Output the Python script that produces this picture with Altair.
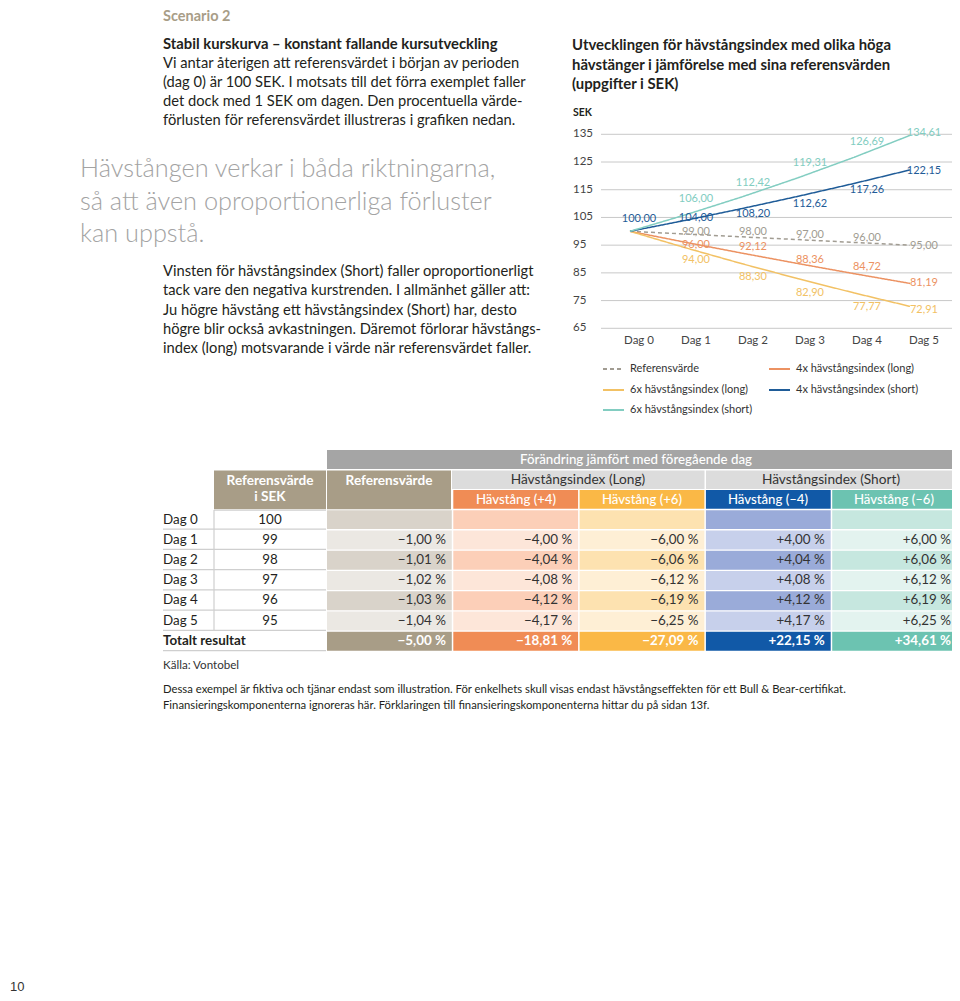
import altair as alt
import pandas as pd

# ---------------- data ----------------
days = [0, 1, 2, 3, 4, 5]
day_labels = ["Dag 0", "Dag 1", "Dag 2", "Dag 3", "Dag 4", "Dag 5"]
series_names = ["Referensvärde", "4x hävstångsindex (long)", "6x hävstångsindex (long)",
                "4x hävstångsindex (short)", "6x hävstångsindex (short)"]
ref_values = [100.00, 99.00, 98.00, 97.00, 96.00, 95.00]
long4_values = [100.00, 96.00, 92.12, 88.36, 84.72, 81.19]
long6_values = [100.00, 94.00, 88.30, 82.90, 77.77, 72.91]
short4_values = [100.00, 104.00, 108.20, 112.62, 117.26, 122.15]
short6_values = [100.00, 106.00, 112.42, 119.31, 126.69, 134.61]
y_ticks = [135, 125, 115, 105, 95, 85, 75, 65]

table_rows = ["Dag 0", "Dag 1", "Dag 2", "Dag 3", "Dag 4", "Dag 5"]
ref_sek = [100, 99, 98, 97, 96, 95]
chg_ref = [None, -1.00, -1.01, -1.02, -1.03, -1.04]
chg_long4 = [None, -4.00, -4.04, -4.08, -4.12, -4.17]
chg_long6 = [None, -6.00, -6.06, -6.12, -6.19, -6.25]
chg_short4 = [None, 4.00, 4.04, 4.08, 4.12, 4.17]
chg_short6 = [None, 6.00, 6.06, 6.12, 6.19, 6.25]
totals = [-5.00, -18.81, -27.09, 22.15, 34.61]
col_keys = ["ref", "l4", "l6", "s4", "s6"]
sub_heads = ["Hävstång (+4)", "Hävstång (+6)", "Hävstång (–4)", "Hävstång (–6)"]

scenario_title = "Scenario 2"
para1_lines = [
    "Stabil kurskurva – konstant fallande kursutveckling",
    "Vi antar återigen att referensvärdet i början av perioden",
    "(dag 0) är 100 SEK. I motsats till det förra exemplet faller",
    "det dock med 1 SEK om dagen. Den procentuella värde-",
    "förlusten för referensvärdet illustreras i grafiken nedan.",
]
quote_lines = [
    "Hävstången verkar i båda riktningarna,",
    "så att även oproportionerliga förluster",
    "kan uppstå.",
]
para2_lines = [
    "Vinsten för hävstångsindex (Short) faller oproportionerligt",
    "tack vare den negativa kurstrenden. I allmänhet gäller att:",
    "Ju högre hävstång ett hävstångsindex (Short) har, desto",
    "högre blir också avkastningen. Däremot förlorar hävstångs-",
    "index (long) motsvarande i värde när referensvärdet faller.",
]
chart_title_lines = [
    "Utvecklingen för hävstångsindex med olika höga",
    "hävstänger i jämförelse med sina referensvärden",
    "(uppgifter i SEK)",
]
footnote_source = "Källa: Vontobel"
footnote_lines = [
    "Dessa exempel är fiktiva och tjänar endast som illustration. För enkelhets skull visas endast hävstångseffekten för ett Bull & Bear-certifikat.",
    "Finansieringskomponenterna ignoreras här. Förklaringen till finansieringskomponenterna hittar du på sidan 13f.",
]
page_number = "10"

# ---------------- styles ----------------
FONT = "Lato"
DARK = "#231f20"
OFF = 8
series_colors = ["#a19c92", "#ec9262", "#f2c164", "#1f5c98", "#82cdc1"]
series_dash = [[4, 3], [1, 0], [1, 0], [1, 0], [1, 0]]
# vertical offset (px) of each value label from its point, per series and day
label_offsets = [
    [None, -2, -5, -5, -4, 1],
    [None, 3, -6, -4, -7, 0],
    [None, 12, 13, 14, 14, 4],
    [-12, -2, 5, 8, 7, 1],
    [None, -16, -14, -15, -15, -2],
]
pal = {
    "ref": ("#a89d87", "#d9d3ca", "#ebe8e3"),
    "l4": ("#f08c55", "#fccfb8", "#fde6d9"),
    "l6": ("#fab846", "#fde2b0", "#feefd5"),
    "s4": ("#1159a7", "#9aabd9", "#c7d0eb"),
    "s6": ("#6cc3b1", "#c6e7df", "#e3f3ef"),
}
BODY = 14.7
TBL = 13.4


def px(v):
    return v - OFF


def fmt(v, sign=False):
    s = f"{abs(v):.2f}".replace(".", ",")
    if v < 0:
        return "−" + s
    return ("+" + s) if sign else s


layers = []


def text_layer(s, x, y, size=BODY, weight="normal", color=DARK, align="left", baseline="middle"):
    df = pd.DataFrame({"t": [s]})
    return alt.Chart(df).mark_text(
        align=align, baseline=baseline, fontSize=size, fontWeight=weight,
        color=color, font=FONT
    ).encode(x=alt.value(px(x)), y=alt.value(px(y)), text="t:N")


def box(x1, x2, y1, y2, color):
    df = pd.DataFrame({"k": [0]})
    return alt.Chart(df).mark_rect(color=color).encode(
        x=alt.value(px(x1)), x2=alt.value(px(x2)),
        y=alt.value(px(y1)), y2=alt.value(px(y2)))


# ---------------- left text column ----------------
layers.append(text_layer(scenario_title, 163, 10, size=14.5, weight="bold", color="#a89d87", baseline="top"))
for i, line in enumerate(para1_lines):
    layers.append(text_layer(line, 163, 45 + 19 * i, size=14.8 if i == 0 else BODY,
                             weight="bold" if i == 0 else "normal"))
for i, line in enumerate(quote_lines):
    layers.append(text_layer(line, 80, 169 + 32.5 * i, size=25.3, weight=300, color="#a3a3a3"))
for i, line in enumerate(para2_lines):
    layers.append(text_layer(line, 163, 272 + 19.3 * i, size=BODY))

# ---------------- line chart ----------------
for i, line in enumerate(chart_title_lines):
    layers.append(text_layer(line, 572, 46 + 19.5 * i, size=14.9, weight="bold"))
layers.append(text_layer("SEK", 573, 113, size=10.5, weight="bold"))

xs_pts = alt.Scale(domain=[0, 5], range=[px(630), px(910)], nice=False, zero=False)
xs_lab = alt.Scale(domain=[0, 5], range=[px(639), px(924)], nice=False, zero=False)
ys = alt.Scale(domain=[65, 135], range=[px(328.3), px(134.3)], nice=False, zero=False)

grid_df = pd.DataFrame({"v": y_ticks})
layers.append(alt.Chart(grid_df).mark_rule(color="#c8c8c8", strokeWidth=1).encode(
    y=alt.Y("v:Q", scale=ys, axis=None), x=alt.value(px(601)), x2=alt.value(px(958))))
layers.append(alt.Chart(grid_df).mark_text(
    align="left", baseline="middle", fontSize=11.5, font=FONT, color="#444").encode(
    y=alt.Y("v:Q", scale=ys, axis=None), x=alt.value(px(573)), text="v:Q"))

day_df = pd.DataFrame({"day": days, "lab": day_labels})
layers.append(alt.Chart(day_df).mark_text(
    align="center", baseline="middle", fontSize=11.5, font=FONT, color="#444").encode(
    x=alt.X("day:Q", scale=xs_lab, axis=None), y=alt.value(px(341)), text="lab:N"))

all_values = [ref_values, long4_values, long6_values, short4_values, short6_values]
line_rows = []
for name, vals in zip(series_names, all_values):
    for d, v in zip(days, vals):
        line_rows.append({"day": d, "value": v, "series": name})
line_df = pd.DataFrame(line_rows)
layers.append(alt.Chart(line_df).mark_line(strokeWidth=1.5).encode(
    x=alt.X("day:Q", scale=xs_pts, axis=None),
    y=alt.Y("value:Q", scale=ys, axis=None),
    color=alt.Color("series:N", scale=alt.Scale(domain=series_names, range=series_colors), legend=None),
    strokeDash=alt.StrokeDash("series:N", scale=alt.Scale(domain=series_names, range=series_dash), legend=None),
    order=alt.Order("day:Q"),
))

# value labels (one layer per offset group)
for vals, col, offs in zip(all_values, series_colors, label_offsets):
    groups = {}
    for d, v, o in zip(days, vals, offs):
        if o is None:
            continue
        groups.setdefault(o, []).append((d, v))
    for o, pts in groups.items():
        df = pd.DataFrame({"day": [p[0] for p in pts], "value": [p[1] for p in pts],
                           "t": [fmt(p[1]) for p in pts]})
        layers.append(alt.Chart(df).mark_text(
            align="center", baseline="middle", fontSize=11, font=FONT, color=col, dy=o).encode(
            x=alt.X("day:Q", scale=xs_lab, axis=None),
            y=alt.Y("value:Q", scale=ys, axis=None), text="t:N"))

# legend
leg_pos = [(603, 369), (769, 369), (603, 390), (769, 390), (603, 410)]
for name, col, dash, (lx, ly) in zip(series_names, series_colors, series_dash, leg_pos):
    df = pd.DataFrame({"k": [0]})
    layers.append(alt.Chart(df).mark_rule(color=col, strokeWidth=2, strokeDash=dash).encode(
        x=alt.value(px(lx)), x2=alt.value(px(lx + 21)), y=alt.value(px(ly))))
    layers.append(text_layer(name, lx + 27, ly, size=11, color="#333"))

# ---------------- table ----------------
rows_domain = ["H"] + table_rows + ["Totalt"]
rowscale = alt.Scale(domain=rows_domain, range=[px(490), px(650.7)], paddingInner=0.07, paddingOuter=0)
colscale = alt.Scale(domain=col_keys, range=[px(327), px(957)], paddingInner=0.012, paddingOuter=0)
col_right = alt.Scale(type="point", domain=col_keys, range=[px(446), px(951)], padding=0)

# spanning header boxes
layers.append(box(327, 957, 450, 469, "#a5a5a5"))
layers.append(text_layer("Förändring jämfört med föregående dag", 636, 460, size=13.3, weight=500,
                         color="white", align="center"))
layers.append(box(452, 704.5, 470.5, 489, "#dcdcdc"))
layers.append(box(706, 957, 470.5, 489, "#dcdcdc"))
layers.append(text_layer("Hävstångsindex (Long)", 578, 480, size=13.7, color="#333", align="center"))
layers.append(text_layer("Hävstångsindex (Short)", 831, 480, size=13.7, color="#333", align="center"))
layers.append(box(214, 326, 470.5, 509.3, pal["ref"][0]))
layers.append(text_layer("Referensvärde", 270, 481, size=13.6, weight="bold", color="white", align="center"))
layers.append(text_layer("i SEK", 270, 497, size=13.6, weight="bold", color="white", align="center"))
layers.append(box(327, 451, 470.5, 509.3, pal["ref"][0]))
layers.append(text_layer("Referensvärde", 389, 481, size=13.6, weight="bold", color="white", align="center"))

# cells
chg_all = [chg_ref, chg_long4, chg_long6, chg_short4, chg_short6]
cell_rows, val_rows, tot_rows, head_rows = [], [], [], []
for ci, (k, chg) in enumerate(zip(col_keys, chg_all)):
    if k != "ref":
        cell_rows.append({"col": k, "row": "H", "fill": pal[k][0]})
        head_rows.append({"col": k, "row": "H", "t": sub_heads[ci - 1]})
    for ri, (r, v) in enumerate(zip(table_rows, chg)):
        cell_rows.append({"col": k, "row": r, "fill": pal[k][1] if ri % 2 == 0 else pal[k][2]})
        if v is not None:
            val_rows.append({"col": k, "row": r, "t": fmt(v, sign=True) + " %"})
    cell_rows.append({"col": k, "row": "Totalt", "fill": pal[k][0]})
    tot_rows.append({"col": k, "row": "Totalt", "t": fmt(totals[ci], sign=True) + " %"})

layers.append(alt.Chart(pd.DataFrame(cell_rows)).mark_rect().encode(
    x=alt.X("col:N", scale=colscale, axis=None),
    y=alt.Y("row:N", scale=rowscale, axis=None),
    color=alt.Color("fill:N", scale=None)))
layers.append(alt.Chart(pd.DataFrame(head_rows)).mark_text(
    align="center", baseline="middle", fontSize=13.2, font=FONT, fontWeight=500, color="white").encode(
    x=alt.X("col:N", scale=colscale, axis=None),
    y=alt.Y("row:N", scale=rowscale, axis=None), text="t:N"))
layers.append(alt.Chart(pd.DataFrame(val_rows)).mark_text(
    align="right", baseline="middle", fontSize=TBL, font=FONT, color="#333").encode(
    x=alt.X("col:N", scale=col_right, axis=None),
    y=alt.Y("row:N", scale=rowscale, axis=None), text="t:N"))
layers.append(alt.Chart(pd.DataFrame(tot_rows)).mark_text(
    align="right", baseline="middle", fontSize=TBL, font=FONT, fontWeight="bold", color="white").encode(
    x=alt.X("col:N", scale=col_right, axis=None),
    y=alt.Y("row:N", scale=rowscale, axis=None), text="t:N"))

# left part of table
left_df = pd.DataFrame({"row": table_rows, "lab": table_rows, "sek": [str(v) for v in ref_sek]})
layers.append(alt.Chart(left_df).mark_text(
    align="left", baseline="middle", fontSize=TBL, font=FONT, color=DARK).encode(
    x=alt.value(px(163)), y=alt.Y("row:N", scale=rowscale, axis=None), text="lab:N"))
layers.append(alt.Chart(left_df).mark_text(
    align="center", baseline="middle", fontSize=TBL, font=FONT, color=DARK).encode(
    x=alt.value(px(270)), y=alt.Y("row:N", scale=rowscale, axis=None), text="sek:N"))
layers.append(alt.Chart(pd.DataFrame({"row": ["Totalt"], "lab": ["Totalt resultat"]})).mark_text(
    align="left", baseline="middle", fontSize=TBL, font=FONT, fontWeight="bold", color=DARK).encode(
    x=alt.value(px(163)), y=alt.Y("row:N", scale=rowscale, axis=None), text="lab:N"))

sep_df = pd.DataFrame({"row": table_rows + ["Totalt"]})
layers.append(alt.Chart(sep_df).mark_rule(color="#cfcfcf", strokeWidth=1.2).encode(
    y=alt.Y("row:N", scale=rowscale, axis=None, bandPosition=1),
    x=alt.value(px(163)), x2=alt.value(px(326))))
layers.append(alt.Chart(pd.DataFrame({"row": ["Dag 0"]})).mark_rule(color="#cfcfcf", strokeWidth=1.2).encode(
    y=alt.Y("row:N", scale=rowscale, axis=None, bandPosition=0),
    x=alt.value(px(214)), x2=alt.value(px(326))))
layers.append(alt.Chart(pd.DataFrame({"k": [0]})).mark_rule(color="#cfcfcf", strokeWidth=1.2).encode(
    x=alt.value(px(214)), y=alt.value(px(510)), y2=alt.value(px(630))))

# footnotes
layers.append(text_layer(footnote_source, 163, 666, size=11.6, color="#333"))
for i, line in enumerate(footnote_lines):
    layers.append(text_layer(line, 163, 690 + 16 * i, size=11.3, color=DARK))
layers.append(alt.Chart(pd.DataFrame({"t": [page_number]})).mark_text(
    align="left", baseline="alphabetic", fontSize=13, font="Liberation Sans", color="#333").encode(
    x=alt.value(px(10)), y=alt.value(983), text="t:N"))

chart = alt.layer(*layers).resolve_scale(
    x="independent", y="independent", color="independent", strokeDash="independent"
).properties(
    width=944, height=985, padding=0, autosize=alt.AutoSizeParams(type="none")
).configure_view(stroke=None)

chart.save("out.html", embed_options={"renderer": "svg", "actions": False})
